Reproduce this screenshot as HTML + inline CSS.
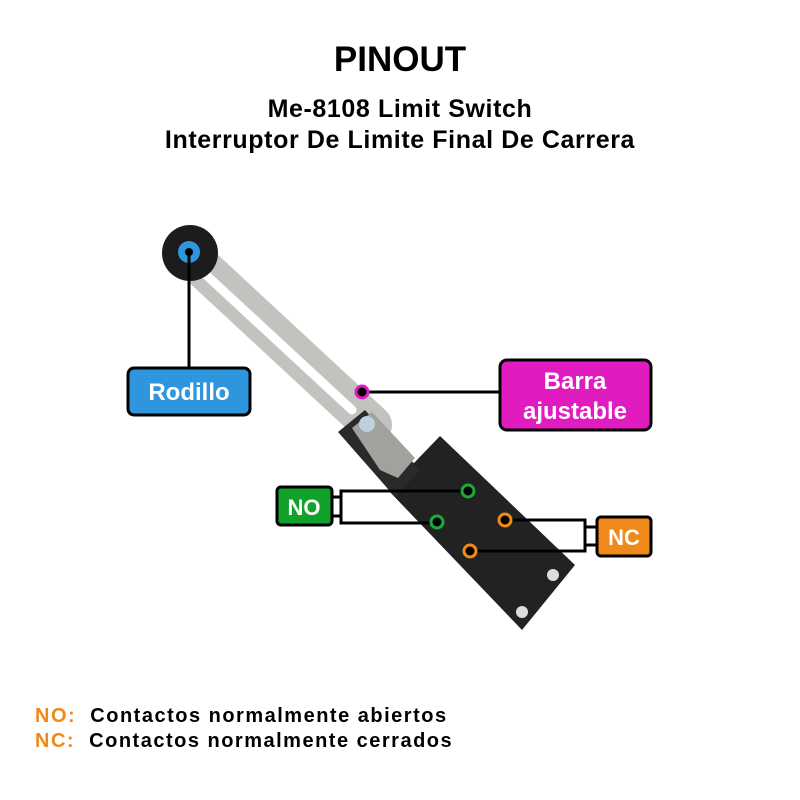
<!DOCTYPE html>
<html><head><meta charset="utf-8"><style>
body{margin:0;background:#fff;}
.wrap{position:relative;width:800px;height:800px;overflow:hidden;font-family:"Liberation Sans",sans-serif;font-weight:bold;}
.t{position:absolute;left:0;width:800px;text-align:center;color:#000;}
.leg{position:absolute;left:35px;font-size:20px;letter-spacing:1.5px;color:#000;}
.leg span{color:#ef8a1a;}
</style></head><body><div class="wrap">
<div class="t" style="top:40px;font-size:35px;">PINOUT</div>
<div class="t" style="top:95px;font-size:25px;letter-spacing:0.6px;">Me-8108 Limit Switch</div>
<div class="t" style="top:126px;font-size:25px;letter-spacing:0.6px;">Interruptor De Limite Final De Carrera</div>
<svg width="800" height="800" style="position:absolute;left:0;top:0">
 <line x1="192" y1="258" x2="372" y2="425" stroke="#c4c2bf" stroke-width="40" stroke-linecap="round"/>
 <line x1="204" y1="273" x2="352" y2="410" stroke="#fff" stroke-width="9" stroke-linecap="round"/>
 <polygon points="388,490 440,436 575,565 522,630" fill="#222"/>
 <polygon points="338,432 365,410 420,470 395,497" fill="#2a2a2a"/>
 <polygon points="352,428 372,412 415,458 398,478 380,470" fill="#a3a19e"/>
 <circle cx="367" cy="424" r="8" fill="#bcd0e0"/>
 <circle cx="522" cy="612" r="6" fill="#ddd"/><circle cx="553" cy="575" r="6" fill="#ddd"/>
 <circle cx="190" cy="253" r="28" fill="#1c1c1c"/>
 <circle cx="189" cy="252" r="11" fill="#2e96dc"/>
 <circle cx="189" cy="252" r="4" fill="#000"/>
 <g stroke="#000" stroke-width="3" fill="none">
  <line x1="189" y1="252" x2="189" y2="368"/>
  <line x1="362" y1="392" x2="500" y2="392"/>
  <polyline points="468,491 341,491 341,523 437,523"/>
  <line x1="332" y1="497" x2="341" y2="497"/><line x1="332" y1="516" x2="341" y2="516"/>
  <polyline points="505,520 585,520 585,551 470,551"/>
  <line x1="585" y1="527" x2="597" y2="527"/><line x1="585" y1="545" x2="597" y2="545"/>
 </g>
 <circle cx="362" cy="392" r="6" fill="#000" stroke="#e01bbf" stroke-width="3"/>
 <circle cx="468" cy="491" r="6" fill="#000" stroke="#1ca83a" stroke-width="3"/>
 <circle cx="437" cy="522" r="6" fill="#000" stroke="#1ca83a" stroke-width="3"/>
 <circle cx="505" cy="520" r="6" fill="#000" stroke="#ef8a1a" stroke-width="3"/>
 <circle cx="470" cy="551" r="6" fill="#000" stroke="#ef8a1a" stroke-width="3"/>
 <g font-family="Liberation Sans" font-weight="bold" fill="#fff" text-anchor="middle">
 <rect x="128" y="368" width="122" height="47" rx="6" fill="#2e96dc" stroke="#000" stroke-width="3"/>
 <text x="189" y="400" font-size="24">Rodillo</text>
 <rect x="500" y="360" width="151" height="70" rx="7" fill="#e01bbf" stroke="#000" stroke-width="3"/>
 <text x="575" y="389" font-size="24">Barra</text>
 <text x="575" y="419" font-size="24">ajustable</text>
 <rect x="277" y="487" width="55" height="38" rx="4" fill="#12a12a" stroke="#000" stroke-width="3"/>
 <text x="304" y="515" font-size="22">NO</text>
 <rect x="597" y="517" width="54" height="39" rx="4" fill="#ef8a1a" stroke="#000" stroke-width="3"/>
 <text x="624" y="545" font-size="22">NC</text>
 </g>
</svg>
<div class="leg" style="top:705px;"><span>NO:</span>&nbsp; Contactos normalmente abiertos</div>
<div class="leg" style="top:730px;"><span>NC:</span>&nbsp; Contactos normalmente cerrados</div>
</div></body></html>
